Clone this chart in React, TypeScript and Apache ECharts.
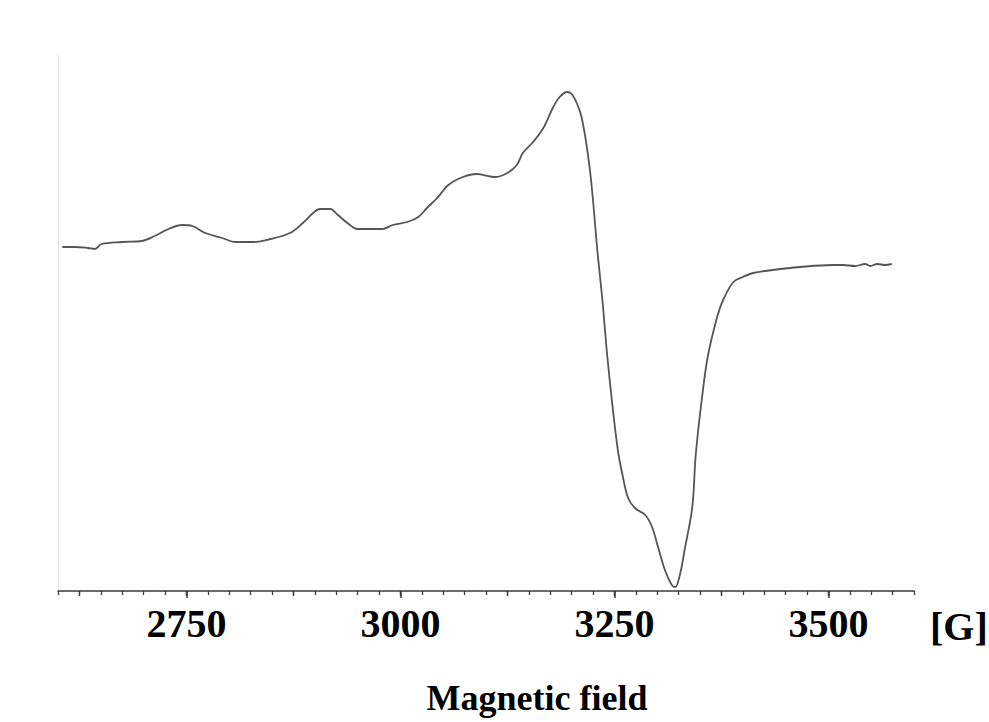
import React, { useEffect, useRef } from "react";
import * as echarts from "echarts";

// Magnetic field (G)
const fieldG = [
  2605, 2620, 2635, 2643, 2651, 2675, 2698, 2713, 2729, 2745, 2757, 2772, 2792, 2807, 2827,
  2848, 2871, 2886, 2898, 2906, 2918, 2927, 2938, 2950, 2964, 2979, 2991, 3008, 3021, 3031,
  3043, 3056, 3073, 3089, 3111, 3125, 3136, 3143, 3155, 3167, 3178, 3186, 3195, 3200, 3206,
  3211, 3216, 3221, 3225, 3230, 3236, 3241, 3247, 3254, 3259, 3266, 3274, 3286, 3294, 3301,
  3309, 3317, 3321, 3327, 3332, 3341, 3345, 3352, 3359, 3370, 3377, 3389, 3400, 3412, 3435,
  3467, 3505, 3517, 3531, 3543, 3549, 3557, 3566, 3574,
];
// EPR signal (arbitrary units)
const signal = [
  18, 18, 17, 16, 21, 23, 24, 29, 36, 40, 39, 32, 27, 23, 23,
  26, 32, 42, 52, 56, 56, 50, 42, 36, 36, 36, 40, 43, 48, 57,
  67, 80, 88, 91, 88, 92, 100, 112, 123, 137, 157, 168, 173, 171, 162,
  150, 128, 98, 65, 15, -35, -85, -135, -185, -208, -233, -243, -250, -262, -282,
  -305, -320, -322, -308, -285, -242, -190, -135, -92, -52, -35, -17, -12, -8, -5,
  -2, 0, 0, -1, 1, -1, 1, 0, 1,
];
const majorTicks = [2750, 3000, 3250, 3500];
const unitLabel = "[G]";
const axisTitle = "Magnetic field";

export default function App() {
  const ref = useRef<HTMLDivElement>(null);
  useEffect(() => {
    if (!ref.current) return;
    const chart = echarts.init(ref.current, undefined, { renderer: "svg" });
    const pxPerG = 856 / 1000;
    const gridTop = 55;
    const gridBottom = 131;
    const gridLeft = 58;
    const gridRight = 75;
    const serif = "'Liberation Serif', 'Times New Roman', serif";
    const lineColor = "#3a3a3a";
    chart.setOption({
      animation: false,
      backgroundColor: "#ffffff",
      grid: [
        { left: gridLeft, right: gridRight, top: gridTop, bottom: gridBottom },
        { left: gridLeft + 25 * pxPerG, right: gridRight + 100 * pxPerG, top: gridTop, bottom: gridBottom },
        { left: gridLeft + 150 * pxPerG, right: gridRight + 100 * pxPerG, top: gridTop, bottom: gridBottom },
      ],
      xAxis: [
        {
          type: "value", gridIndex: 0, min: 2600, max: 3600, interval: 25, position: "bottom",
          axisLine: { show: true, onZero: false, lineStyle: { color: lineColor, width: 1.5 } },
          axisTick: { show: true, length: 4, lineStyle: { color: lineColor, width: 1.3 } },
          axisLabel: { show: false }, splitLine: { show: false },
        },
        {
          type: "value", gridIndex: 1, min: 2625, max: 3500, interval: 125, position: "bottom",
          axisLine: { show: false, onZero: false },
          axisTick: { show: true, length: 5, lineStyle: { color: lineColor, width: 1.3 } },
          axisLabel: { show: false }, splitLine: { show: false },
        },
        {
          type: "value", gridIndex: 2, min: majorTicks[0], max: majorTicks[majorTicks.length - 1], interval: 250,
          position: "bottom",
          axisLine: { show: false, onZero: false },
          axisTick: { show: true, length: 7, lineStyle: { color: lineColor, width: 1.5 } },
          axisLabel: {
            show: true, margin: 12, color: "#000", fontFamily: serif, fontWeight: "bold", fontSize: 40,
            formatter: (v: number) => (majorTicks.includes(v) ? String(v) : ""),
          },
          splitLine: { show: false },
        },
      ],
      yAxis: [
        {
          type: "value", gridIndex: 0, min: -326, max: 210,
          axisLine: { show: true, onZero: false, lineStyle: { color: "#e2e2e2", width: 1 } },
          axisTick: { show: false }, axisLabel: { show: false }, splitLine: { show: false },
        },
        { type: "value", gridIndex: 1, show: false, min: 0, max: 1 },
        { type: "value", gridIndex: 2, show: false, min: 0, max: 1 },
      ],
      graphic: [
        {
          type: "text", left: 930, top: 606,
          style: { text: unitLabel, fill: "#000", font: `bold 40px ${serif}` },
        },
        {
          type: "text", x: 537, y: 680,
          style: { text: axisTitle, fill: "#000", font: `bold 36px ${serif}`, textAlign: "center", textVerticalAlign: "top" },
        },
      ],
      series: [
        {
          type: "line", xAxisIndex: 0, yAxisIndex: 0,
          data: fieldG.map((g, i) => [g, signal[i]]),
          smooth: 0.35, showSymbol: false, symbol: "none",
          lineStyle: { color: "#555555", width: 1.8 },
        },
      ],
    });
    return () => chart.dispose();
  }, []);
  return (
    <div
      ref={ref}
      style={{ position: "fixed", left: 0, top: 0, width: 989, height: 722, background: "#fff" }}
    />
  );
}
